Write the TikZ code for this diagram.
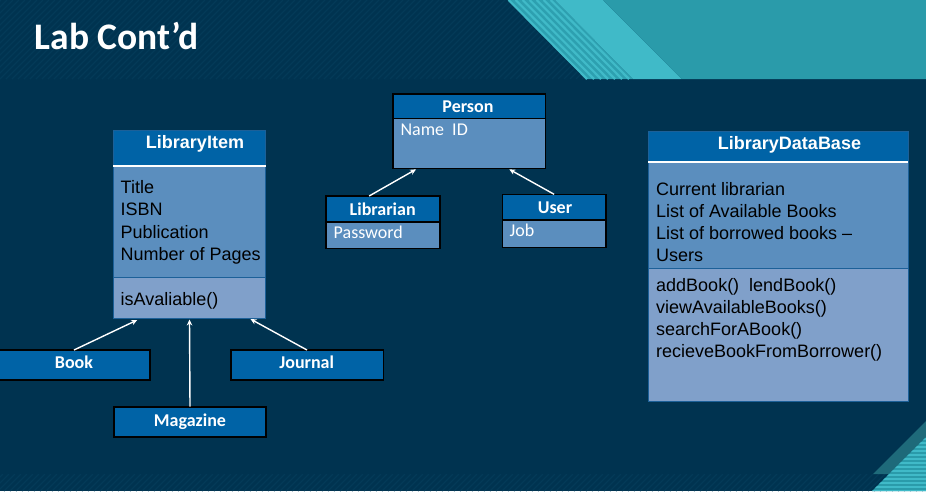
\documentclass[tikz,border=0pt]{standalone}
\usepackage{fontspec}
\setmainfont{Liberation Sans}
\newfontfamily\calibri{Carlito}
\usetikzlibrary{arrows.meta}
\usetikzlibrary{calc}
\usetikzlibrary{positioning}

\definecolor{slatebg}{RGB}{0,51,80}
\definecolor{slatestripe}{RGB}{4,58,88}
\definecolor{tealdark}{RGB}{42,155,170}
\definecolor{tealmid}{RGB}{45,160,176}
\definecolor{teallight}{RGB}{64,186,200}
\definecolor{tealdeep}{RGB}{30,106,122}
\definecolor{headblue}{RGB}{0,99,166}
\definecolor{attrblue}{RGB}{91,142,190}
\definecolor{opsblue}{RGB}{128,160,202}
\definecolor{edgeblue}{RGB}{28,96,152}

\begin{document}
\begin{tikzpicture}[x=1pt,y=-1pt,
    box/.style={rectangle, inner sep=0pt, outer sep=0pt, anchor=north west},
    boxsize/.style 2 args={minimum width=#1pt, minimum height=#2pt},
    itemhead/.style={box, fill=headblue, draw=edgeblue, line width=0.8pt},
    itemattr/.style={box, fill=attrblue, draw=edgeblue, line width=0.8pt},
    itemops/.style={box, fill=opsblue, draw=edgeblue, line width=0.8pt},
    kindhead/.style={box, fill=headblue, draw=black, line width=1.6pt},
    kindbody/.style={box, fill=attrblue, draw=black, line width=1.6pt},
    headtext/.style={inner sep=0pt, anchor=base, text=white, font=\fontsize{18}{22}\selectfont\bfseries},
    bodytext/.style={inner sep=0pt, anchor=base west, text=black, font=\fontsize{18}{22}\selectfont},
    kindtext/.style={inner sep=0pt, anchor=base, text=white, font=\calibri\fontsize{18}{22}\selectfont\bfseries},
    kindfield/.style={inner sep=0pt, anchor=base west, text=white, font=\calibri\fontsize{18}{22}\selectfont},
    inherit/.style={draw=white, line width=1.4pt, -{Stealth[length=6pt,width=5.5pt]}}]
    \useasboundingbox (0,0) rectangle (926,491);
    \clip (0,0) rectangle (926,491);

    % slide background
    \fill[slatebg] (0,0) rectangle (926,491);
    \begin{scope}
        \clip (0,0) rectangle (926,79);
        \foreach \s in {-90,-84,...,700}
            \draw[slatestripe, line width=1.2pt] (\s,79) -- (\s+79,0);
    \end{scope}
    \begin{scope}
        \clip (0,474) rectangle (926,491);
        \foreach \s in {-20,-14,...,940}
            \draw[slatestripe, line width=1.2pt] (\s,491) -- (\s+17,474);
    \end{scope}
    \fill[tealmid] (507.7,0) -- (555,0) -- (633,79) -- (586,79) -- cycle;
    \foreach \d in {1,8,...,43}
        \draw[teallight, line width=2.2pt] (507.7+\d,0) -- (586+\d,79);
    \fill[teallight] (555,0) -- (603,0) -- (681.7,79) -- (633,79) -- cycle;
    \fill[tealdark] (603,0) -- (926,0) -- (926,79) -- (681.7,79) -- cycle;
    \fill[tealdeep] (873,474) -- (926,421) -- (926,437) -- (890,474) -- cycle;
    \fill[tealdark] (926,437) -- (926,491) -- (872,491) -- cycle;
    \begin{scope}
        \clip (926,437) -- (926,491) -- (872,491) -- cycle;
        \foreach \h in {439,443,...,491}
            \draw[teallight, line width=1.6pt] (860,\h) -- (926,\h);
    \end{scope}

    \node[inner sep=0pt, anchor=base west, text=white, font=\calibri\fontsize{37.5}{40}\selectfont\bfseries] (title) at (34.5,49.3) {Lab Cont’d};

    % LibraryItem
    \node[itemhead, boxsize={152.4}{36}] (itemhead) at (113.3,130) {};
    \node[itemattr, boxsize={152.4}{111}] (itemattr) at (itemhead.south west) {};
    \node[itemops, boxsize={152.4}{41}] (itemops) at (itemattr.south west) {};
    \draw[white, line width=2pt] (itemhead.south west) -- (itemhead.south east);
    \node[headtext] (itemname) at (195,148.3) {LibraryItem};
    \foreach \txt [count=\i from 0] in {Title, ISBN, Publication, Number of Pages}
        \node[bodytext] (itemfield\i) at (120.5,193.3+22.4*\i) {\txt};
    \node[bodytext] (itemmethod) at (120.5,305) {isAvaliable()};

    % LibraryDataBase
    \node[itemhead, boxsize={260}{31}] (dbhead) at (648.3,131) {};
    \node[itemattr, boxsize={260}{106.3}] (dbattr) at (dbhead.south west) {};
    \node[itemops, boxsize={260}{132.7}] (dbops) at (dbattr.south west) {};
    \draw[white, line width=2pt] (dbhead.south west) -- (dbhead.south east);
    \node[headtext] (dbname) at (789.5,149.3) {LibraryDataBase};
    \foreach \txt [count=\i from 0] in {Current librarian, List of Available Books, List of borrowed books –, Users}
        \node[bodytext] (dbfield\i) at (655.8,195+22.2*\i) {\txt};
    \foreach \txt [count=\i from 0] in {addBook()\ \ lendBook(), viewAvailableBooks(), searchForABook(), recieveBookFromBorrower()}
        \node[bodytext] (dbmethod\i) at (656,291.7+21.9*\i) {\txt};

    % Person, Librarian, User
    \node[kindhead, boxsize={152.6}{24.3}] (personhead) at (392.7,94) {};
    \node[kindbody, boxsize={152.6}{50}] (personbody) at (personhead.south west) {};
    \node[kindtext] (personname) at (468,112.3) {Person};
    \node[kindfield] (personfield) at (400.3,135.7) {Name\ \ ID};

    \node[kindhead, boxsize={114.3}{25.7}] (librhead) at (325.7,196) {};
    \node[kindbody, boxsize={114.3}{26.6}] (librbody) at (librhead.south west) {};
    \node[kindtext] (librname) at (382.7,215) {Librarian};
    \node[kindfield] (librfield) at (333.5,238.3) {Password};

    \node[kindhead, boxsize={103.7}{25.7}] (userhead) at (502.3,194.3) {};
    \node[kindbody, boxsize={103.7}{27.3}] (userbody) at (userhead.south west) {};
    \node[kindtext] (username) at (555,213.3) {User};
    \node[kindfield] (userfield) at (509.5,236.7) {Job};

    % Book, Journal, Magazine
    \node[kindhead, boxsize={152}{30}] (book) at (-2,350) {};
    \node[kindtext] (bookname) at (74,368.3) {Book};
    \node[kindhead, boxsize={152.6}{30}] (journal) at (230.7,350) {};
    \node[kindtext] (journalname) at (306.7,368.3) {Journal};
    \node[kindhead, boxsize={152}{30}] (magazine) at (114,406.7) {};
    \node[kindtext] (magazinename) at (190,426) {Magazine};

    % inheritance arrows
    \draw[inherit] ($(librhead.north west)!0.38!(librhead.north east)$) -- ($(personbody.south west)!0.153!(personbody.south east)+(0,1)$);
    \draw[inherit] (userhead.north) -- ($(personbody.south west)!0.764!(personbody.south east)+(0,1)$);
    \draw[inherit] (book.north) -- ($(itemops.south west)!0.157!(itemops.south east)+(0,2)$);
    \draw[inherit] (magazine.north) -- ($(itemops.south)+(0,1.5)$);
    \draw[inherit] (journal.north) -- ($(itemops.south west)!0.90!(itemops.south east)+(0,1)$);
\end{tikzpicture}
\end{document}
